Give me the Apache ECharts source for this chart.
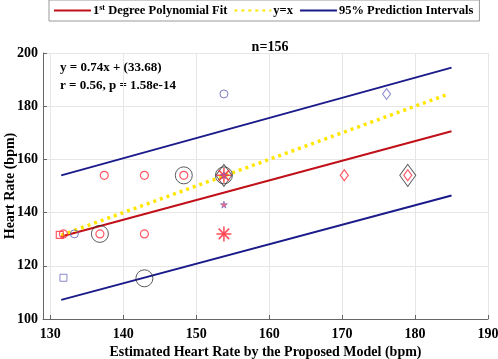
<!DOCTYPE html>
<html>
<head>
<meta charset="utf-8">
<script src="https://cdn.jsdelivr.net/npm/echarts@6/dist/echarts.min.js"></script>
<style>
  html, body { margin: 0; padding: 0; background: #fff; }
  #chart { width: 498px; height: 359px; }
</style>
</head>
<body>
<div id="chart"></div>
<script>
// lines
var fitLine = [[131.5, 131.0], [185, 170.6]];
var identityLine = [[131.5, 131.5], [184.5, 184.5]];
var upperPI = [[131.5, 154.0], [185, 194.5]];
var lowerPI = [[131.5, 107.2], [185, 146.4]];

// scatter markers grouped by shape/colour
var redCircles = [[137.4, 154], [142.9, 154], [148.3, 154], [131.8, 132], [136.8, 132], [142.9, 132]];
var redSquares = [[131.3, 131.6]];
var blueCircles = [[153.8, 184.6], [133.3, 132]];
var blueSquares = [[131.8, 115.5]];
var blackCircles = [[148.3, 154], [136.8, 132], [142.9, 115.3], [153.8, 154]];
var blackDiamonds = [[153.8, 154], [179.0, 154]];
var redDiamonds = [[170.3, 154], [179.0, 154]];
var blueDiamonds = [[176.1, 184.6]];
var redStars = [[153.8, 143], [153.8, 154]];
var redAsterisks = [[153.8, 132], [153.8, 154]];

var xTicks = [130, 140, 150, 160, 170, 180, 190];

var serif = 'Liberation Serif';
var starPath = 'path://M50,0L61,35L98,35L68,57L79,91L50,70L21,91L32,57L2,35L39,35Z';
var asteriskPath = 'path://M5,0L5,10M0,5L10,5M1.5,1.5L8.5,8.5M1.5,8.5L8.5,1.5';

function hollow(name, data, symbol, size, color, width) {
  return {
    name: name, type: 'scatter', data: data, symbol: symbol, symbolSize: size,
    itemStyle: { color: 'none', borderColor: color, borderWidth: width || 1 },
    emphasis: { disabled: true }, z: 3
  };
}

var chart = echarts.init(document.getElementById('chart'));
chart.setOption({
  animation: false,
  title: {
    text: 'n=156', left: 265, top: 35, textAlign: 'center',
    textStyle: { fontFamily: serif, fontWeight: 'bold', fontSize: 14, color: '#000' }
  },
  legend: {
    left: 49, top: 0, padding: [4, 6, 4, 4],
    borderColor: '#999', borderWidth: 1,
    itemWidth: 37, itemHeight: 12, itemGap: 6,
    itemStyle: { opacity: 0 },
    data: ['fit', 'y=x', '95% Prediction Intervals'],
    formatter: function (n) {
      if (n === 'fit') return '1{sup|st} Degree Polynomial Fit';
      return n;
    },
    textStyle: {
      fontFamily: serif, fontWeight: 'bold', fontSize: 12.5, color: '#000', padding: [0, 0, 0, -3],
      rich: { sup: { fontFamily: serif, fontWeight: 'bold', fontSize: 8, verticalAlign: 'top', padding: [0, 0, 5, 0] } }
    }
  },
  grid: { left: 43, right: 10, top: 53, bottom: 40, outerBoundsMode: 'none', containLabel: false },
  xAxis: {
    type: 'value', min: 129, max: 190, minInterval: 10, maxInterval: 10,
    name: 'Estimated Heart Rate by the Proposed Model (bpm)', nameLocation: 'middle', nameGap: 26,
    nameMoveOverlap: false,
    nameTextStyle: { fontFamily: serif, fontWeight: 'bold', fontSize: 14, color: '#000' },
    axisLine: { lineStyle: { color: '#666' } },
    axisTick: { inside: true, length: 4, lineStyle: { color: '#666' } },
    axisLabel: {
      fontFamily: serif, fontWeight: 'bold', fontSize: 14, color: '#000', margin: 8,
      hideOverlap: false,
      formatter: function (v) { return xTicks.indexOf(v) >= 0 ? String(v) : ''; }
    },
    splitLine: { lineStyle: { color: '#e6e6e6' } }
  },
  yAxis: {
    type: 'value', min: 100, max: 200, interval: 20,
    name: 'Heart Rate (bpm)', nameLocation: 'middle', nameGap: 26,
    nameMoveOverlap: false,
    nameTextStyle: { fontFamily: serif, fontWeight: 'bold', fontSize: 14, color: '#000' },
    axisLine: { show: true, lineStyle: { color: '#666' } },
    axisTick: { show: true, inside: true, length: 4, lineStyle: { color: '#666' } },
    axisLabel: { fontFamily: serif, fontWeight: 'bold', fontSize: 14, color: '#000', margin: 5 },
    splitLine: { lineStyle: { color: '#e6e6e6' } }
  },
  graphic: [
    { type: 'text', left: 60, top: 61, style: { text: 'y = 0.74x + (33.68)', font: 'bold 13px "Liberation Serif"', fill: '#000' } },
    { type: 'text', left: 60, top: 79, style: { text: 'r = 0.56, p = 1.58e-14', font: 'bold 13px "Liberation Serif"', fill: '#000' } }
  ],
  series: [
    { name: 'fit', type: 'line', data: fitLine, symbol: 'none', lineStyle: { color: '#c0101a', width: 2 }, itemStyle: { color: '#c0101a' }, z: 2 },
    { name: 'y=x', type: 'line', data: identityLine, symbol: 'none', lineStyle: { color: '#ffe600', width: 3.5, type: [3, 4] }, itemStyle: { color: '#ffe600' }, z: 2 },
    { name: '95% Prediction Intervals', type: 'line', data: upperPI, symbol: 'none', lineStyle: { color: '#1a1a8a', width: 2 }, itemStyle: { color: '#1a1a8a' }, z: 2 },
    { name: '95% Prediction Intervals', type: 'line', data: lowerPI, symbol: 'none', lineStyle: { color: '#1a1a8a', width: 2 }, itemStyle: { color: '#1a1a8a' }, z: 2 },
    hollow('bc', blackCircles, 'circle', 17, '#333', 1),
    hollow('bd', blackDiamonds, 'diamond', [16, 22], '#333', 1),
    hollow('rc', redCircles, 'circle', 8, '#ff3040', 1.2),
    hollow('rs', redSquares, 'rect', 7, '#ff3040', 1.2),
    hollow('blc', blueCircles, 'circle', 8, '#5a5ab8', 1),
    hollow('bls', blueSquares, 'rect', 7, '#6a6ac0', 1),
    hollow('rd', redDiamonds, 'diamond', [8, 11], '#ff3040', 1.2),
    hollow('bld', blueDiamonds, 'diamond', [8, 11], '#6a6ac0', 1),
    hollow('ra', redAsterisks, asteriskPath, 15, '#ff2030', 1.5),
    {
      name: 'st', type: 'scatter', data: redStars, symbol: starPath, symbolSize: 7,
      itemStyle: { color: '#ff4060', borderColor: '#6a6ac0', borderWidth: 0.8 },
      emphasis: { disabled: true }, z: 4
    }
  ]
});
</script>
</body>
</html>
